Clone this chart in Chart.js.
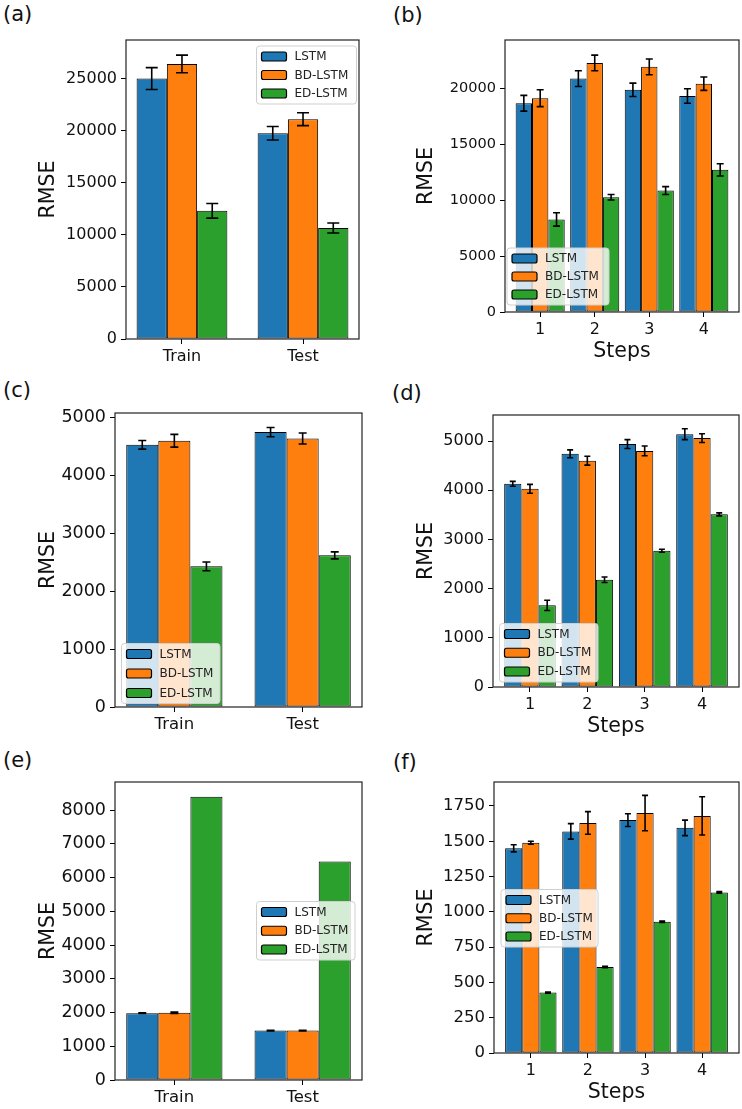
<!DOCTYPE html>
<html><head><meta charset="utf-8">
<script src="https://cdn.jsdelivr.net/npm/chart.js@4.4.1/dist/chart.umd.min.js"></script>
<style>
html,body{margin:0;padding:0;background:#fff;}
body{width:742px;height:1109px;position:relative;overflow:hidden;font-family:"DejaVu Sans",sans-serif;}
canvas{position:absolute;}
.plabel{position:absolute;font-family:"DejaVu Sans",sans-serif;font-size:21px;color:#111;line-height:1;}
</style></head><body>
<div class="plabel" style="left:3px;top:4px">(a)</div>
<div class="plabel" style="left:393px;top:5px">(b)</div>
<div class="plabel" style="left:3px;top:380px">(c)</div>
<div class="plabel" style="left:392px;top:383px">(d)</div>
<div class="plabel" style="left:3px;top:750px">(e)</div>
<div class="plabel" style="left:393px;top:752px">(f)</div>
<canvas id="ca"></canvas><canvas id="cb"></canvas><canvas id="cc"></canvas>
<canvas id="cd"></canvas><canvas id="ce"></canvas><canvas id="cf"></canvas>
<script>
// ---------- data ----------
const seriesNames = ['LSTM', 'BD-LSTM', 'ED-LSTM'];
const seriesColors = ['#1f77b4', '#ff7f0e', '#2ca02c'];
const splitCategories = ['Train', 'Test'];
const stepCategories = [1, 2, 3, 4];

// (a)
const aLSTM = [25000, 19750];  const aLSTMErr = [1050, 650];
const aBD   = [26400, 21100];  const aBDErr   = [850, 620];
const aED   = [12300, 10650];  const aEDErr   = [700, 480];
const aTicks = [0, 5000, 10000, 15000, 20000, 25000];
// (b)
const bLSTM = [18650, 20850, 19850, 19300];  const bLSTMErr = [700, 700, 600, 650];
const bBD   = [19100, 22250, 21900, 20400];  const bBDErr   = [750, 700, 700, 600];
const bED   = [8270, 10250, 10850, 12700];   const bEDErr   = [600, 250, 350, 550];
const bTicks = [0, 5000, 10000, 15000, 20000];
// (c)
const cLSTM = [4530, 4750];  const cLSTMErr = [75, 80];
const cBD   = [4600, 4640];  const cBDErr   = [110, 95];
const cED   = [2430, 2620];  const cEDErr   = [75, 60];
const cTicks = [0, 1000, 2000, 3000, 4000, 5000];
// (d)
const dLSTM = [4130, 4740, 4940, 5140];  const dLSTMErr = [50, 80, 90, 110];
const dBD   = [4030, 4600, 4800, 5060];  const dBDErr   = [90, 90, 100, 90];
const dED   = [1660, 2180, 2770, 3510];  const dEDErr   = [105, 55, 30, 30];
const dTicks = [0, 1000, 2000, 3000, 4000, 5000];
// (e)
const eLSTM = [1980, 1465];  const eLSTMErr = [10, 8];
const eBD   = [1990, 1465];  const eBDErr   = [20, 10];
const eED   = [8395, 6475];  const eEDErr   = [0, 0];
const eTicks = [0, 1000, 2000, 3000, 4000, 5000, 6000, 7000, 8000];
// (f)
const fLSTM = [1450, 1570, 1650, 1595];  const fLSTMErr = [25, 55, 45, 55];
const fBD   = [1490, 1630, 1700, 1680];  const fBDErr   = [10, 80, 125, 135];
const fED   = [428, 610, 930, 1138];     const fEDErr   = [4, 5, 5, 5];
const fTicks = [0, 250, 500, 750, 1000, 1250, 1500, 1750];

// ---------- layout (page pixels) ----------
const panels = [
  {id:'ca', values:[aLSTM,aBD,aED], errors:[aLSTMErr,aBDErr,aEDErr], cats:splitCategories, xPos:[0,1], yTicks:aTicks,
   ymax:28700, xmin:-0.4625, xmax:1.4625, catPct:0.75, steps:false,
   frame:{l:126,t:40,r:359,b:339}, titleX:48, tickFont:16, xFont:16, cap:6,
   legend:{x:256.5,y:46,w:100,h:58}},
  {id:'cb', values:[bLSTM,bBD,bED], errors:[bLSTMErr,bBDErr,bEDErr], cats:stepCategories, xPos:stepCategories, yTicks:bTicks,
   ymax:24300, xmin:0.355, xmax:4.645, catPct:0.9, steps:true,
   frame:{l:505,t:40,r:739,b:312}, titleX:426, tickFont:14.5, xFont:16, cap:3.5,
   legend:{x:507,y:248,w:102,h:57}},
  {id:'cc', values:[cLSTM,cBD,cED], errors:[cLSTMErr,cBDErr,cEDErr], cats:splitCategories, xPos:[0,1], yTicks:cTicks,
   ymax:5080, xmin:-0.4625, xmax:1.4625, catPct:0.75, steps:false,
   frame:{l:115,t:413,r:362,b:707}, titleX:48, tickFont:17.5, xFont:16.5, cap:4,
   legend:{x:121.5,y:643.5,w:98.5,h:60}},
  {id:'cd', values:[dLSTM,dBD,dED], errors:[dLSTMErr,dBDErr,dEDErr], cats:stepCategories, xPos:stepCategories, yTicks:dTicks,
   ymax:5530, xmin:0.355, xmax:4.645, catPct:0.9, steps:true,
   frame:{l:493,t:415,r:739,b:687}, titleX:426, tickFont:16, xFont:16, cap:3,
   legend:{x:499.5,y:623.5,w:98.5,h:58.5}},
  {id:'ce', values:[eLSTM,eBD,eED], errors:[eLSTMErr,eBDErr,eEDErr], cats:splitCategories, xPos:[0,1], yTicks:eTicks,
   ymax:8830, xmin:-0.4625, xmax:1.4625, catPct:0.75, steps:false,
   frame:{l:115,t:782,r:362,b:1080}, titleX:48, tickFont:17.5, xFont:16.5, cap:4,
   legend:{x:256.5,y:901.5,w:98.5,h:58.5}},
  {id:'cf', values:[fLSTM,fBD,fED], errors:[fLSTMErr,fBDErr,fEDErr], cats:stepCategories, xPos:stepCategories, yTicks:fTicks,
   ymax:1920, xmin:0.355, xmax:4.645, catPct:0.9, steps:true,
   frame:{l:494,t:782,r:739,b:1053}, titleX:426, tickFont:16.5, xFont:16, cap:3,
   legend:{x:501,y:889.5,w:97,h:57.5}}
];

Chart.defaults.font.family = "'DejaVu Sans', sans-serif";
Chart.defaults.color = '#111';

const extrasPlugin = {
  id: 'extras',
  afterDraw(chart) {
    const P = chart.options.plugins.extras.panel;
    const ctx = chart.ctx;
    const ca = chart.chartArea;
    const yS = chart.scales.y;
    ctx.save();
    // error bars
    ctx.strokeStyle = '#000';
    ctx.lineWidth = 1.6;
    chart.data.datasets.forEach((ds, k) => {
      const meta = chart.getDatasetMeta(k);
      meta.data.forEach((bar, i) => {
        const v = P.values[k][i], e = P.errors[k][i];
        if (!e) return;
        const y1 = yS.getPixelForValue(v + e), y2 = yS.getPixelForValue(v - e);
        ctx.beginPath();
        ctx.moveTo(bar.x, y1); ctx.lineTo(bar.x, y2);
        ctx.moveTo(bar.x - P.cap, y1); ctx.lineTo(bar.x + P.cap, y1);
        ctx.moveTo(bar.x - P.cap, y2); ctx.lineTo(bar.x + P.cap, y2);
        ctx.stroke();
      });
    });
    // legend
    const L = P.legend;
    const lx = L.x - P.cl, ly = L.y - P.ct;
    ctx.beginPath();
    if (ctx.roundRect) ctx.roundRect(lx, ly, L.w, L.h, 3); else ctx.rect(lx, ly, L.w, L.h);
    ctx.fillStyle = 'rgba(255,255,255,0.8)';
    ctx.fill();
    ctx.strokeStyle = '#cfcfcf';
    ctx.lineWidth = 1;
    ctx.stroke();
    const rowH = (L.h - 21) / 2;
    ctx.font = "12px 'DejaVu Sans', sans-serif";
    ctx.textBaseline = 'middle';
    ctx.textAlign = 'left';
    chart.data.datasets.forEach((ds, k) => {
      const cy = ly + 10.5 + k * rowH;
      ctx.beginPath();
      if (ctx.roundRect) ctx.roundRect(lx + 5, cy - 4.5, 25, 9, 2); else ctx.rect(lx + 5, cy - 4.5, 25, 9);
      ctx.fillStyle = ds.backgroundColor;
      ctx.fill();
      ctx.strokeStyle = '#000';
      ctx.lineWidth = 1.2;
      ctx.stroke();
      ctx.fillStyle = '#222';
      ctx.fillText(ds.label, lx + 38, cy + 0.5);
    });
    // frame
    ctx.strokeStyle = '#222';
    ctx.lineWidth = 1.2;
    ctx.strokeRect(ca.left, ca.top, ca.right - ca.left, ca.bottom - ca.top);
    ctx.restore();
  }
};

panels.forEach(P => {
  const F = P.frame;
  P.cl = Math.round(P.titleX - 12);
  P.ct = F.t - 20;
  const cw = F.r + 3 - P.cl;
  const ch = F.b + 52 - P.ct;
  const cv = document.getElementById(P.id);
  cv.width = cw; cv.height = ch;
  cv.style.left = P.cl + 'px'; cv.style.top = P.ct + 'px';
  cv.style.width = cw + 'px'; cv.style.height = ch + 'px';
  const yAxisW = F.l - P.cl;

  const datasets = seriesNames.map((name, k) => ({
    label: name,
    data: P.values[k].map((v, i) => ({x: P.xPos[i], y: v})),
    backgroundColor: seriesColors[k],
    borderColor: '#000',
    borderWidth: 1,
    borderSkipped: false,
    categoryPercentage: P.catPct,
    barPercentage: 1
  }));

  new Chart(cv, {
    type: 'bar',
    data: {datasets},
    plugins: [extrasPlugin],
    options: {
      responsive: false,
      animation: false,
      devicePixelRatio: 1,
      layout: {padding: {left: 0, top: 20, right: 3, bottom: 0}},
      plugins: {legend: {display: false}, tooltip: {enabled: false}, extras: {panel: P}},
      scales: {
        x: {
          type: 'linear', min: P.xmin, max: P.xmax, offset: false,
          grid: {display: true, offset: false, drawOnChartArea: false, drawTicks: true, tickLength: 5, color: '#000', lineWidth: 1},
          border: {display: false},
          afterBuildTicks: s => { s.ticks = P.xPos.map(v => ({value: v})); },
          afterFit: s => { s.height = 52; },
          ticks: {autoSkip: false, maxRotation: 0, padding: 3, color: '#111',
                  font: {size: P.xFont}, callback: (v, i) => String(P.cats[i])},
          title: {display: P.steps, text: 'Steps', font: {size: 20.5}, color: '#111', padding: 0}
        },
        y: {
          type: 'linear', min: 0, max: P.ymax,
          grid: {display: true, drawOnChartArea: false, drawTicks: true, tickLength: 5, color: '#000', lineWidth: 1},
          border: {display: false},
          afterBuildTicks: s => { s.ticks = P.yTicks.map(v => ({value: v})); },
          afterFit: s => { s.width = yAxisW; },
          ticks: {padding: 4, color: '#111', font: {size: P.tickFont}, callback: v => String(v)},
          title: {display: true, text: 'RMSE', font: {size: 20.5}, color: '#111', padding: 0}
        }
      }
    }
  });
});
</script>
</body></html>
